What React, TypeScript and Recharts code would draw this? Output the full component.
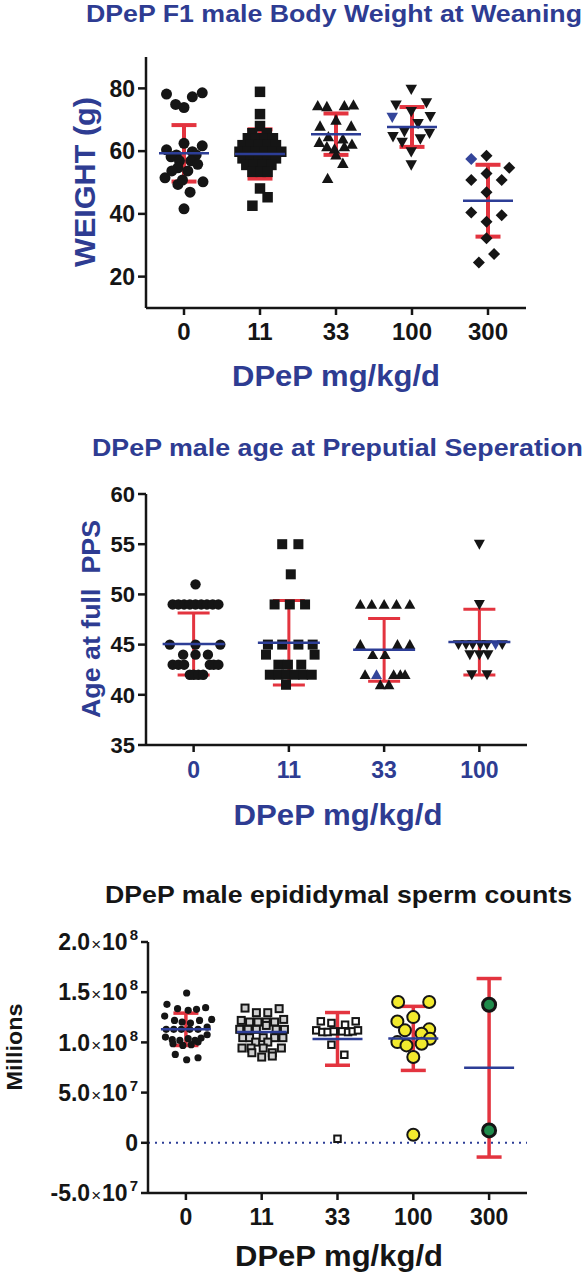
import React from 'react';
import { ScatterChart, Scatter, XAxis, YAxis, ErrorBar, ReferenceLine } from 'recharts';

const FONT = '"Liberation Sans", Arial, Helvetica, sans-serif';
const BLUE_TEXT = '#2e3c92';
const RED = '#e3343f';
const MEAN_BLUE = '#2c3d96';
const INK = '#151515';
const HILITE = '#34459a';

// ---------------- Panel 1: F1 male body weight at weaning (g) ----------------
const weightDoses = ['0', '11', '33', '100', '300'];
const weight0 = [78.2, 78.6, 77.3, 74.9, 73.9, 62.5, 61.7, 60.4, 59.8, 58.8, 58.2, 58.8, 56.9, 56.9, 55.8, 54.7, 53.7, 53.7, 51.5, 50.2, 49.4, 46.9, 41.6, 50.8];
const weight0Jitter = [-0.23, 0.24, 0.11, -0.11, 0, 0, 0.24, -0.23, 0.11, -0.1, -0.17, 0.16, -0.06, 0.09, 0.18, -0.08, -0.16, 0.05, -0.25, 0.25, -0.08, 0.08, 0, -0.02];
const weight11 = [78.9, 71.8, 68.0, 48.1, 45.3, 42.6, 65.7, 65.7, 64.1, 64.1, 64.1, 64.1, 61.9, 61.9, 61.9, 61.9, 61.9, 59.8, 59.8, 59.8, 59.8, 59.8, 59.8, 57.7, 57.7, 57.7, 57.7, 57.7, 55.6, 55.6, 55.6, 55.6, 53.4, 53.4, 53.4];
const weight11Jitter = [0, 0, 0, 0, 0.1, -0.1, -0.1, 0.09, -0.16, -0.05, 0.06, 0.17, -0.23, -0.12, -0.01, 0.1, 0.21, -0.27, -0.16, -0.05, 0.06, 0.17, 0.28, -0.23, -0.12, -0.01, 0.1, 0.21, -0.18, -0.08, 0.04, 0.15, -0.1, 0.01, 0.1];
const weight33 = [74.5, 74.2, 74.5, 74.7, 69.9, 68.0, 68.0, 64.6, 62.8, 63.9, 61.4, 60.7, 61.4, 62.2, 58.8, 56.1, 51.3];
const weight33Jitter = [-0.24, -0.12, 0.11, 0.23, 0, -0.21, 0.2, -0.1, -0.22, 0.09, -0.12, -0.02, 0.11, 0.21, 0, 0.09, -0.11];
const weight100 = [79.7, 74.7, 75.4, 72.6, 68.8, 66.2, 71.0, 65.7, 64.6, 62.8, 63.9, 59.8, 55.6];
const weight100Jitter = [-0.01, -0.21, 0.19, -0.01, 0.08, -0.1, 0.24, 0.23, -0.25, -0.13, 0.11, -0.01, -0.01];
const weight300 = [58.5, 54.7, 50.8, 50.8, 52.9, 46.9, 40.4, 39.6, 37.5, 32.2, 27.2, 24.5];
const weight300Jitter = [-0.02, 0.28, -0.22, 0.18, -0.02, -0.02, -0.22, 0.18, -0.02, -0.02, 0.08, -0.12];
const weightBlueGroup = [3, 4];
const weightBlue = [70.8, 57.5];
const weightBlueJitter = [-0.26, -0.22];
const weightMeans = [59.3, 59.1, 65.4, 67.7, 44.2];
const weightSDs = [9.0, 7.85, 6.6, 6.35, 11.45];
const weightTicks = [20, 40, 60, 80];

// ---------------- Panel 2: age at preputial separation (days) ----------------
const ppsDoses = ['0', '11', '33', '100'];
const pps0 = [51, 49, 49, 49, 49, 49, 49, 49, 49, 49, 45, 45, 45, 44, 44, 44, 43, 43, 43, 43, 43, 43, 42, 42, 42, 42];
const pps0Jitter = [0.02, -0.22, -0.16, -0.1, -0.04, 0.02, 0.08, 0.14, 0.2, 0.26, -0.25, 0.02, 0.28, -0.11, 0.02, 0.15, -0.22, -0.16, -0.1, 0.17, 0.21, 0.26, -0.04, 0, 0.05, 0.1];
const pps11 = [55, 55, 52, 49, 49, 49, 45, 45, 45, 45, 44, 44, 43, 43, 43, 42, 42, 42, 42, 42, 42, 41];
const pps11Jitter = [-0.07, 0.1, 0.02, -0.15, 0.01, 0.17, -0.22, -0.07, 0.1, 0.25, -0.24, 0.27, -0.11, -0.01, 0.13, -0.2, -0.11, -0.03, 0.06, 0.15, 0.24, -0.03];
const pps33 = [49, 49, 49, 49, 49, 45, 45, 45, 44, 44, 42, 42, 42, 42, 41, 41];
const pps33Jitter = [-0.25, -0.13, 0, 0.13, 0.27, -0.25, 0.14, 0.27, -0.12, 0.01, -0.2, 0.1, 0.17, 0.22, -0.04, 0.05];
const pps100 = [55, 49, 45, 45, 45, 45, 45, 45, 44, 44, 44, 42, 42];
const pps100Jitter = [0, 0, -0.22, -0.14, -0.07, 0.01, 0.08, 0.24, -0.1, 0, 0.09, -0.08, 0.08];
const ppsBlueGroup = [2, 3];
const ppsBlue = [42, 45];
const ppsBlueJitter = [-0.08, 0.17];
const ppsMeans = [45.05, 45.18, 44.48, 45.25];
const ppsSDs = [3.09, 4.21, 3.12, 3.28];
const ppsTicks = [35, 40, 45, 50, 55, 60];

// ---------------- Panel 3: epididymal sperm counts (millions) ----------------
const spermDoses = ['0', '11', '33', '100', '300'];
const sperm0 = [149.2, 137.9, 133.6, 131.9, 132.9, 134.6, 126.2, 121.9, 120.3, 119.3, 121.9, 122.9, 113, 113, 113, 113, 113, 115.3, 105.3, 102.7, 102, 103.7, 102, 104.3, 107.6, 98.7, 97, 97.7, 100.3, 88, 82.7, 84.7];
const sperm0Jitter = [0.01, -0.25, -0.11, 0.03, 0.14, 0.26, -0.28, -0.15, -0.05, 0.06, 0.18, 0.34, -0.26, -0.16, -0.06, 0.05, 0.16, 0.28, -0.27, -0.18, -0.08, 0.03, 0.12, 0.2, 0.28, -0.17, -0.04, 0.07, 0.16, -0.14, 0.01, 0.16];
const sperm11 = [134.2, 133.6, 129.6, 129.6, 121.9, 120.3, 120.3, 120.3, 120.3, 122.9, 116.9, 113, 113, 113, 113, 113, 104.7, 104.7, 104.7, 104.7, 104.7, 100.3, 100.3, 94.4, 94.4, 94.4, 94.4, 89.7, 89.7, 85.4, 86.4];
const sperm11Jitter = [-0.22, 0.23, -0.07, 0.08, -0.27, -0.16, -0.05, 0.06, 0.17, 0.29, 0.06, -0.29, -0.18, -0.07, 0.19, 0.3, -0.25, -0.16, 0.02, 0.17, 0.28, -0.08, 0.08, -0.26, -0.14, 0.02, 0.26, -0.13, 0.14, 0, 0.14];
const sperm33 = [121, 119.3, 117.6, 121, 112, 110.3, 110.3, 111, 111, 110.3, 111, 112, 97.7, 87.7, 4.0];
const sperm33Jitter = [-0.22, -0.08, 0.1, 0.24, -0.28, -0.2, -0.13, -0.05, 0.06, 0.14, 0.2, 0.27, -0.08, 0.09, 0];
const sperm100 = [140.2, 140.2, 125.2, 120.9, 113, 112, 108.6, 103.7, 100.3, 97, 98.7, 85.4, 8.0];
const sperm100Jitter = [-0.2, 0.21, 0, -0.21, 0.21, -0.11, 0.11, 0.22, -0.21, -0.09, 0.11, 0, 0];
const sperm300 = [137.5, 12.3];
const sperm300Jitter = [0, 0];
const spermMeans = [113.05, 110.3, 103.5, 104.0, 74.7];
const spermSDs: (number | null)[] = [16.1, null, 26.25, 31.9, 88.9];
const spermTicks = [-50, 0, 50, 100, 150, 200];

// ---------------- helpers ----------------
type Pt = { x: number; y: number };
const toPoints = (group: number, values: number[], jitter: number[]): Pt[] =>
  values.map((v, i) => ({ x: group + jitter[i], y: v }));
const toGroupPoints = (groups: number[], values: number[], jitter: number[]): Pt[] =>
  values.map((v, i) => ({ x: groups[i] + jitter[i], y: v }));
const toMeans = (means: number[]) => means.map((m, i) => ({ x: i, y: m }));
const toErrors = (means: number[], sds: (number | null)[]) =>
  means.map((m, i) => ({ x: i, y: m, sd: sds[i] })).filter((d) => d.sd !== null);

const circle = (r: number, fill: string, stroke = 'none', sw = 0) => (p: any) =>
  <circle cx={p.cx} cy={p.cy} r={r} fill={fill} stroke={stroke} strokeWidth={sw} />;
const square = (s: number, fill: string, stroke = 'none', sw = 0) => (p: any) =>
  <rect x={p.cx - s / 2} y={p.cy - s / 2} width={s} height={s} fill={fill} stroke={stroke} strokeWidth={sw} />;
const triUp = (s: number, fill: string) => (p: any) =>
  <path d={`M${p.cx},${p.cy - s * 0.5}L${p.cx + s / 2},${p.cy + s * 0.4}L${p.cx - s / 2},${p.cy + s * 0.4}Z`} fill={fill} />;
const triDown = (s: number, fill: string) => (p: any) =>
  <path d={`M${p.cx},${p.cy + s * 0.5}L${p.cx + s / 2},${p.cy - s * 0.4}L${p.cx - s / 2},${p.cy - s * 0.4}Z`} fill={fill} />;
const diamond = (h: number, fill: string) => (p: any) =>
  <path d={`M${p.cx},${p.cy - h}L${p.cx + h},${p.cy}L${p.cx},${p.cy + h}L${p.cx - h},${p.cy}Z`} fill={fill} />;
const meanLine = (half: number, sw: number) => (p: any) =>
  <line x1={p.cx - half} x2={p.cx + half} y1={p.cy} y2={p.cy} stroke={MEAN_BLUE} strokeWidth={sw} />;
const noMark = () => <g />;

const axisStyle = { stroke: INK, strokeWidth: 2.5 };
const tickFont = (size: number, fill: string) => ({ fill, fontSize: size, fontWeight: 700, fontFamily: FONT });

const sup: Record<string, string> = { '-50': '7', '50': '7', '100': '8', '150': '8', '200': '8' };
const mant: Record<string, string> = { '-50': '-5.0', '50': '5.0', '100': '1.0', '150': '1.5', '200': '2.0' };

const SciTick = (props: any) => {
  const { x, y, payload } = props;
  const v = String(payload.value);
  if (v === '0') {
    return (
      <text x={x} y={y} dy="0.355em" textAnchor="end" fill={INK} fontSize={23} fontWeight={700} fontFamily={FONT}>0</text>
    );
  }
  return (
    <text x={x} y={y} dy="0.355em" textAnchor="end" fill={INK} fontSize={23} fontWeight={700} fontFamily={FONT}>
      <tspan>{mant[v]}</tspan>
      <tspan fontSize={17} fontWeight={400} dx={1}>×</tspan>
      <tspan dx={1}>10</tspan>
      <tspan fontSize={15} dx={2} dy={-10}>{sup[v]}</tspan>
    </text>
  );
};

export default function App() {
  return (
    <div style={{ position: 'absolute', left: 0, top: 0, width: 586, height: 1280, background: '#ffffff', overflow: 'hidden' }}>
      {/* Panel 1 */}
      <div style={{ position: 'absolute', left: 0, top: 0 }}>
        <ScatterChart width={586} height={360} margin={{ top: 57, right: 60, bottom: 0, left: 0 }}>
          <XAxis type="number" dataKey="x" domain={[-0.5, 4.5]} ticks={[0, 1, 2, 3, 4]} interval={0}
            tickFormatter={(v: number) => weightDoses[v]} height={52} allowDataOverflow
            axisLine={axisStyle} tickLine={axisStyle} tickSize={7} tickMargin={8} tick={tickFont(24, INK)} />
          <YAxis type="number" dataKey="y" domain={[10, 90]} ticks={weightTicks} interval={0} width={146} allowDataOverflow
            axisLine={axisStyle} tickLine={axisStyle} tickSize={8} tickMargin={3} tick={tickFont(23, INK)} />
          <Scatter data={toPoints(0, weight0, weight0Jitter)} shape={circle(5.5, INK)} isAnimationActive={false} />
          <Scatter data={toPoints(1, weight11, weight11Jitter)} shape={square(10.5, INK)} isAnimationActive={false} />
          <Scatter data={toPoints(2, weight33, weight33Jitter)} shape={triUp(11.5, INK)} isAnimationActive={false} />
          <Scatter data={toPoints(3, weight100, weight100Jitter)} shape={triDown(11.5, INK)} isAnimationActive={false} />
          <Scatter data={toPoints(4, weight300, weight300Jitter)} shape={diamond(6, INK)} isAnimationActive={false} />
          <Scatter data={toGroupPoints(weightBlueGroup, weightBlue, weightBlueJitter).slice(0, 1)} shape={triDown(11.5, HILITE)} isAnimationActive={false} />
          <Scatter data={toGroupPoints(weightBlueGroup, weightBlue, weightBlueJitter).slice(1)} shape={diamond(6, HILITE)} isAnimationActive={false} />
          <Scatter data={toErrors(weightMeans, weightSDs)} shape={noMark} isAnimationActive={false}>
            <ErrorBar dataKey="sd" direction="y" width={12.5} stroke={RED} strokeWidth={4} isAnimationActive={false} />
          </Scatter>
          <Scatter data={toMeans(weightMeans)} shape={meanLine(25, 2.5)} isAnimationActive={false} />
        </ScatterChart>
      </div>

      {/* Panel 2 */}
      <div style={{ position: 'absolute', left: 0, top: 440 }}>
        <ScatterChart width={586} height={360} margin={{ top: 54, right: 59, bottom: 0, left: 0 }}>
          <XAxis type="number" dataKey="x" domain={[-0.5, 3.5]} ticks={[0, 1, 2, 3]} interval={0}
            tickFormatter={(v: number) => ppsDoses[v]} height={55} allowDataOverflow
            axisLine={axisStyle} tickLine={axisStyle} tickSize={7} tickMargin={10} tick={tickFont(23, BLUE_TEXT)} />
          <YAxis type="number" dataKey="y" domain={[35, 60]} ticks={ppsTicks} interval={0} width={146} allowDataOverflow
            axisLine={axisStyle} tickLine={axisStyle} tickSize={8} tickMargin={3} tick={tickFont(22, INK)} />
          <Scatter data={toPoints(0, pps0, pps0Jitter)} shape={circle(5.2, INK)} isAnimationActive={false} />
          <Scatter data={toPoints(1, pps11, pps11Jitter)} shape={square(10, INK)} isAnimationActive={false} />
          <Scatter data={toPoints(2, pps33, pps33Jitter)} shape={triUp(11, INK)} isAnimationActive={false} />
          <Scatter data={toPoints(3, pps100, pps100Jitter)} shape={triDown(11, INK)} isAnimationActive={false} />
          <Scatter data={toGroupPoints(ppsBlueGroup, ppsBlue, ppsBlueJitter).slice(0, 1)} shape={triUp(11, HILITE)} isAnimationActive={false} />
          <Scatter data={toGroupPoints(ppsBlueGroup, ppsBlue, ppsBlueJitter).slice(1)} shape={triDown(11, HILITE)} isAnimationActive={false} />
          <Scatter data={toErrors(ppsMeans, ppsSDs)} shape={noMark} isAnimationActive={false}>
            <ErrorBar dataKey="sd" direction="y" width={16} stroke={RED} strokeWidth={3} isAnimationActive={false} />
          </Scatter>
          <Scatter data={toMeans(ppsMeans)} shape={meanLine(31, 2.5)} isAnimationActive={false} />
        </ScatterChart>
      </div>

      {/* Panel 3 */}
      <div style={{ position: 'absolute', left: 0, top: 880 }}>
        <ScatterChart width={586} height={360} margin={{ top: 62, right: 59, bottom: 0, left: 0 }}>
          <XAxis type="number" dataKey="x" domain={[-0.5, 4.5]} ticks={[0, 1, 2, 3, 4]} interval={0}
            tickFormatter={(v: number) => spermDoses[v]} height={47} allowDataOverflow
            axisLine={axisStyle} tickLine={axisStyle} tickSize={7} tickMargin={9} tick={tickFont(23, INK)} />
          <YAxis type="number" dataKey="y" domain={[-50, 200]} ticks={spermTicks} interval={0} width={148} allowDataOverflow
            axisLine={axisStyle} tickLine={axisStyle} tickSize={7} tickMargin={3} tick={<SciTick />} />
          <ReferenceLine y={0} stroke={MEAN_BLUE} strokeDasharray="2 5" strokeWidth={2} />
          <Scatter data={toPoints(0, sperm0, sperm0Jitter)} shape={circle(3.6, INK)} isAnimationActive={false} />
          <Scatter data={toPoints(1, sperm11, sperm11Jitter)} shape={square(7, '#cfcfcf', INK, 2)} isAnimationActive={false} />
          <Scatter data={toPoints(2, sperm33, sperm33Jitter)} shape={square(6.5, '#ffffff', INK, 2)} isAnimationActive={false} />
          <Scatter data={toPoints(3, sperm100, sperm100Jitter)} shape={circle(6, '#f2ea2e', INK, 2)} isAnimationActive={false} />
          <Scatter data={toPoints(4, sperm300, sperm300Jitter)} shape={circle(6.5, '#1f8b4b', INK, 3)} isAnimationActive={false} />
          <Scatter data={toErrors(spermMeans, spermSDs)} shape={noMark} isAnimationActive={false}>
            <ErrorBar dataKey="sd" direction="y" width={12.5} stroke={RED} strokeWidth={3.5} isAnimationActive={false} />
          </Scatter>
          <Scatter data={toMeans(spermMeans)} shape={meanLine(25, 2.5)} isAnimationActive={false} />
        </ScatterChart>
      </div>

      {/* Titles and axis labels */}
      <svg width={586} height={1280} style={{ position: 'absolute', left: 0, top: 0, pointerEvents: 'none' }}
        fontFamily={FONT} fontWeight={700}>
        <text x={86} y={22} fontSize={24} fill={BLUE_TEXT} textLength={496} lengthAdjust="spacingAndGlyphs">DPeP F1 male Body Weight at Weaning</text>
        <text transform="translate(95,182) rotate(-90)" textAnchor="middle" fontSize={30} fill={BLUE_TEXT} textLength={170} lengthAdjust="spacingAndGlyphs">WEIGHT (g)</text>
        <text x={336} y={386} textAnchor="middle" fontSize={29} fill={BLUE_TEXT} textLength={208} lengthAdjust="spacingAndGlyphs">DPeP mg/kg/d</text>

        <text x={92} y={456} fontSize={24} fill={BLUE_TEXT} textLength={491} lengthAdjust="spacingAndGlyphs">DPeP male age at Preputial Seperation</text>
        <text transform="translate(100,619) rotate(-90)" textAnchor="middle" fontSize={25} fill={BLUE_TEXT} textLength={198} lengthAdjust="spacingAndGlyphs" style={{ whiteSpace: 'pre' }}>Age at full  PPS</text>
        <text x={338} y={825} textAnchor="middle" fontSize={29} fill={BLUE_TEXT} textLength={209} lengthAdjust="spacingAndGlyphs">DPeP mg/kg/d</text>

        <text x={105} y={903} fontSize={24} fill={INK} textLength={467} lengthAdjust="spacingAndGlyphs">DPeP male epididymal sperm counts</text>
        <text transform="translate(22,1047) rotate(-90)" textAnchor="middle" fontSize={22} fill={INK} textLength={87} lengthAdjust="spacingAndGlyphs">Millions</text>
        <text x={339} y={1266} textAnchor="middle" fontSize={29} fill={INK} textLength={208} lengthAdjust="spacingAndGlyphs">DPeP mg/kg/d</text>
      </svg>
    </div>
  );
}
